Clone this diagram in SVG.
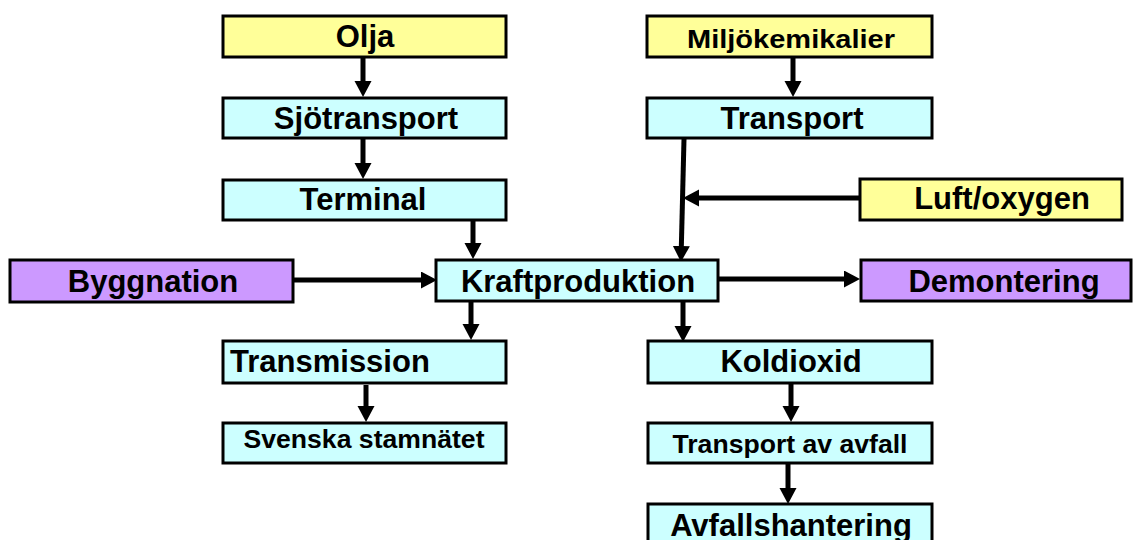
<svg xmlns="http://www.w3.org/2000/svg" width="1133" height="540" viewBox="0 0 1133 540">
  <style>
    .box { stroke: #000; stroke-width: 3; }
    .src { fill: #FFFF99; }
    .proc { fill: #CCFFFF; }
    .ext { fill: #CC99FF; }
    text { font-family: "Liberation Sans", Arial, sans-serif; font-weight: bold; fill: #000; text-anchor: middle; }
    .big { font-size: 31px; }
    .small { font-size: 25px; }
    .conn line { stroke: #000; stroke-width: 5; marker-end: url(#head); }
  </style>
  <defs>
    <marker id="head" markerUnits="userSpaceOnUse" markerWidth="18" markerHeight="18" refX="2" refY="8.5" orient="auto">
      <path d="M0,0 L16,8.5 L0,17 z" fill="#000"/>
    </marker>
  </defs>

  <rect width="1133" height="540" fill="#fff"/>

  <!-- connectors: each line stops 14px short of the arrow tip -->
  <g id="connectors" class="conn">
    <line x1="363" y1="58" x2="363" y2="83"/>
    <line x1="363" y1="139" x2="363" y2="165"/>
    <line x1="473" y1="221" x2="473" y2="245"/>
    <line x1="793" y1="58" x2="793" y2="83"/>
    <line x1="684" y1="139" x2="681.3" y2="248"/>
    <line x1="860" y1="198" x2="697" y2="198"/>
    <line x1="294" y1="280" x2="423" y2="280"/>
    <line x1="719" y1="279" x2="846" y2="279"/>
    <line x1="471" y1="302" x2="471" y2="326"/>
    <line x1="683" y1="302" x2="683" y2="328"/>
    <line x1="366" y1="385" x2="366" y2="408"/>
    <line x1="791" y1="384" x2="791" y2="408"/>
    <line x1="788" y1="464" x2="788" y2="490"/>
  </g>

  <g id="olja">
    <rect class="box src" x="223" y="16" width="283" height="41"/>
    <text class="big" x="365" y="47">Olja</text>
  </g>
  <g id="sjotransport">
    <rect class="box proc" x="223" y="98" width="283" height="40"/>
    <text class="big" x="366" y="129">Sjötransport</text>
  </g>
  <g id="terminal">
    <rect class="box proc" x="223" y="180" width="283" height="40"/>
    <text class="big" x="363" y="210">Terminal</text>
  </g>
  <g id="miljokemikalier">
    <rect class="box src" x="647" y="16" width="285" height="41"/>
    <text class="small" x="791" y="48" textLength="208" lengthAdjust="spacingAndGlyphs">Miljökemikalier</text>
  </g>
  <g id="transport">
    <rect class="box proc" x="647" y="98" width="285" height="40"/>
    <text class="big" x="792" y="129">Transport</text>
  </g>
  <g id="luft-oxygen">
    <rect class="box src" x="860" y="179" width="262" height="41"/>
    <text class="big" x="1002" y="209">Luft/oxygen</text>
  </g>
  <g id="byggnation">
    <rect class="box ext" x="10" y="260" width="283" height="42"/>
    <text class="big" x="153" y="292">Byggnation</text>
  </g>
  <g id="kraftproduktion">
    <rect class="box proc" x="436" y="260" width="282" height="41"/>
    <text class="big" x="578" y="292">Kraftproduktion</text>
  </g>
  <g id="demontering">
    <rect class="box ext" x="861" y="260" width="270" height="41"/>
    <text class="big" x="1004" y="292">Demontering</text>
  </g>
  <g id="transmission">
    <rect class="box proc" x="223" y="341" width="283" height="42"/>
    <text class="big" x="230" y="372" style="text-anchor:start">Transmission</text>
  </g>
  <g id="koldioxid">
    <rect class="box proc" x="648" y="341" width="284" height="42"/>
    <text class="big" x="791" y="372">Koldioxid</text>
  </g>
  <g id="svenska-stamnatet">
    <rect class="box proc" x="223" y="423" width="283" height="40"/>
    <text class="small" x="364" y="448" textLength="241" lengthAdjust="spacingAndGlyphs">Svenska stamnätet</text>
  </g>
  <g id="transport-av-avfall">
    <rect class="box proc" x="648" y="423" width="284" height="40"/>
    <text class="small" x="790" y="453" textLength="235" lengthAdjust="spacingAndGlyphs">Transport av avfall</text>
  </g>
  <g id="avfallshantering">
    <rect class="box proc" x="648" y="504" width="284" height="50"/>
    <text class="big" x="791" y="536">Avfallshantering</text>
  </g>
</svg>
